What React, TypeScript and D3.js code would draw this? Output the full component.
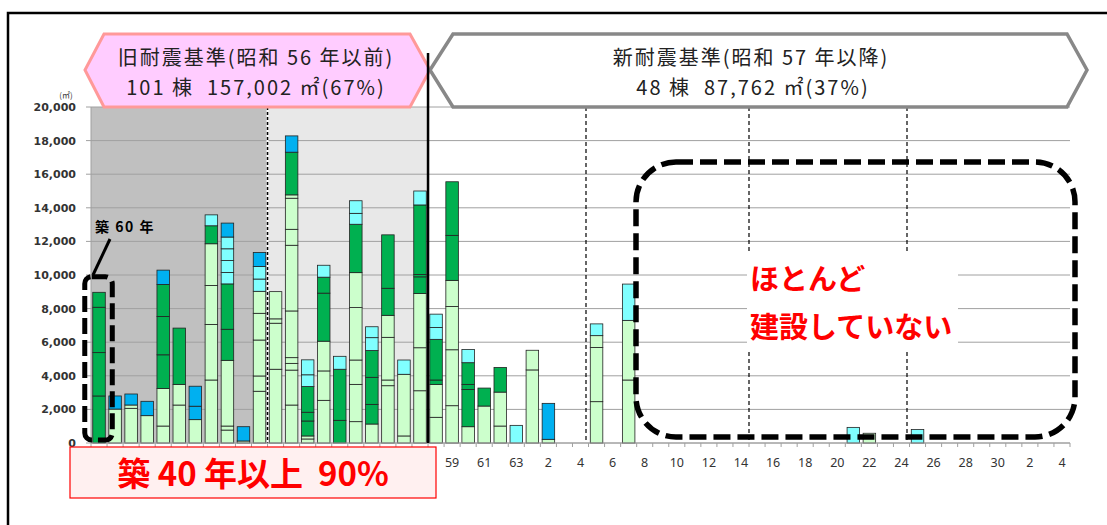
import React from 'react';
import * as d3 from 'd3';

// 建築年度（昭和37年〜令和4年）
const years = [
  'S37', 'S38', 'S39', 'S40', 'S41', 'S42', 'S43', 'S44', 'S45', 'S46',
  'S47', 'S48', 'S49', 'S50', 'S51', 'S52', 'S53', 'S54', 'S55', 'S56',
  'S57', 'S58', 'S59', 'S60', 'S61', 'S62', 'S63', 'H1', 'H2', 'H3',
  'H4', 'H5', 'H6', 'H7', 'H8', 'H9', 'H10', 'H11', 'H12', 'H13',
  'H14', 'H15', 'H16', 'H17', 'H18', 'H19', 'H20', 'H21', 'H22', 'H23',
  'H24', 'H25', 'H26', 'H27', 'H28', 'H29', 'H30', 'R1', 'R2', 'R3', 'R4',
];

// 棟ごとの延床面積（㎡）、色区分別
const lightGreen: Record<string, number[]> = {
  S38: [2020], S39: [2065, 197], S40: [1627], S41: [1010, 2240], S42: [2260, 1230],
  S43: [1390], S44: [3750, 3310, 2320, 2480], S45: [770, 240, 3910], S46: [120],
  S47: [3080, 910, 2140, 1590, 1310], S48: [4390, 2740, 260, 1620],
  S49: [2260, 2080, 400, 340, 2780, 3910, 950, 1850, 200], S50: [240, 180],
  S51: [2540, 1750, 1770], S53: [1270, 2220, 1450, 3120, 2080], S54: [1130],
  S55: [3410, 340, 2540, 1310], S56: [420, 3670], S57: [3110, 2560, 3230],
  S58: [1530, 1960], S59: [2220, 3330, 2580, 1550], S60: [970], S61: [2200],
  S62: [1010, 2020], H1: [4350, 1170], H2: [220], H5: [2460, 3230, 700],
  H7: [3750, 3550], H22: [580],
};

const darkGreen: Record<string, number[]> = {
  S37: [2800, 2580, 2700, 890], S41: [2000, 2280, 1910], S42: [3350], S44: [1070],
  S45: [1850, 2700], S49: [2540], S50: [890, 520, 1530], S51: [2860, 950],
  S52: [1350, 3040], S53: [2880], S54: [1170, 1610, 1590], S55: [1610, 3180],
  S57: [990, 140, 4140], S58: [260, 2420], S59: [2680, 3190], S60: [2220, 300, 1290],
  S61: [1070], S62: [1470],
};

const lightCyan: Record<string, number[]> = {
  S44: [650], S45: [680, 710, 700, 700], S47: [730, 750], S50: [700, 890], S51: [710],
  S52: [770], S53: [650, 750], S54: [770, 650], S56: [850], S57: [830], S58: [710, 790],
  S60: [790], S63: [1050], H5: [700], H7: [2160], H21: [930], H25: [800],
};

const blue: Record<string, number[]> = {
  S38: [780], S39: [655], S40: [855], S41: [850], S43: [800, 1190], S45: [830],
  S46: [850], S47: [830], S49: [970], H2: [2140],
};

const yTickValues = [0, 2000, 4000, 6000, 8000, 10000, 12000, 14000, 16000, 18000, 20000];

const seriesList = [
  { data: lightGreen, color: '#CCFFCC' },
  { data: darkGreen, color: '#00B050' },
  { data: lightCyan, color: '#80FFFF' },
  { data: blue, color: '#00B0F0' },
];

const JP = '"Noto Sans CJK JP", "Noto Sans", sans-serif';
const pre = { whiteSpace: 'pre' as const };

export default function App() {
  const W = 1107;
  const H = 525;
  const left = 91;
  const right = 1070;
  const top = 107;
  const bottom = 443;

  const x = d3.scaleBand<string>().domain(years).range([left, right]).paddingInner(0.22).paddingOuter(0.11);
  const y = d3.scaleLinear().domain([0, 20000]).range([bottom, top]);
  const step = x.step();
  const bx = (k: number) => left + k * step;
  const fmt = d3.format(',');

  // stacked segments
  const segs: { key: string; x: number; y0: number; y1: number; color: string }[] = [];
  years.forEach((yr) => {
    let acc = 0;
    seriesList.forEach((s) => {
      (s.data[yr] || []).forEach((v, j) => {
        segs.push({ key: `${yr}-${s.color}-${j}`, x: x(yr)!, y0: acc, y1: acc + v, color: s.color });
        acc += v;
      });
    });
  });

  const oldEnd = bx(years.indexOf('S58'));
  const fiftyEnd = bx(years.indexOf('S48'));
  const firstX = x('S37')!;

  const pinkPts = [[85, 70], [104, 34], [410, 34], [430, 70], [410, 107], [104, 107]];
  const grayPts = [[430, 70], [453, 34], [1067, 34], [1087, 70], [1067, 107], [453, 107]];
  const pts = (p: number[][]) => p.map((d) => d.join(',')).join(' ');

  // labels under the red note box are hidden in the original
  const firstShown = years.indexOf('S59');

  return (
    <svg width={W} height={H} style={{ position: 'absolute', left: 0, top: 0, background: '#fff' }}>
      {/* frame */}
      <path d={`M8,${H} L8,13 L${W},13`} fill="none" stroke="#000" strokeWidth={2.5} />

      {/* shaded periods */}
      <rect x={left} y={top} width={fiftyEnd - left} height={bottom - top} fill="#C0C0C0" />
      <rect x={fiftyEnd} y={top} width={oldEnd - fiftyEnd} height={bottom - top} fill="#E8E8E8" />

      {/* gridlines */}
      {yTickValues.map((t) => (
        <g key={t}>
          <line x1={left} x2={right} y1={y(t)} y2={y(t)} stroke="#A0A0A0" strokeWidth={1} />
          <line x1={left - 5} x2={left} y1={y(t)} y2={y(t)} stroke="#A0A0A0" strokeWidth={1} />
          <text x={76} y={y(t) + 4} textAnchor="end" fontFamily="DejaVu Sans" fontWeight="bold" fontSize={11} fill="#333">
            {fmt(t)}
          </text>
        </g>
      ))}
      <text x={66} y={98} textAnchor="middle" fontFamily={JP} fontSize={8} fill="#333">(㎡)</text>
      <line x1={left} x2={left} y1={top} y2={bottom} stroke="#A0A0A0" />

      {/* period dividers */}
      <line x1={fiftyEnd} x2={fiftyEnd} y1={top} y2={bottom} stroke="#fff" strokeWidth={2} />
      <line x1={fiftyEnd} x2={fiftyEnd} y1={top} y2={bottom} stroke="#000" strokeWidth={1.5} strokeDasharray="3,2" />
      {[586, 749, 907].map((lx) => (
        <line key={lx} x1={lx} x2={lx} y1={top} y2={bottom} stroke="#000" strokeWidth={1.2} strokeDasharray="4,3" />
      ))}

      {/* bars */}
      {segs.map((s) => (
        <rect key={s.key} x={s.x} y={y(s.y1)} width={x.bandwidth()} height={y(s.y0) - y(s.y1)}
          fill={s.color} stroke="#222" strokeWidth={0.8} />
      ))}

      {/* x axis */}
      <line x1={left} x2={right} y1={bottom} y2={bottom} stroke="#A0A0A0" />
      {d3.range(years.length + 1).map((k) => (
        <line key={k} x1={bx(k)} x2={bx(k)} y1={bottom} y2={bottom + 4} stroke="#A0A0A0" />
      ))}
      {years.map((yr, i) => i % 2 === 0 && i >= firstShown && (
        <text key={yr} x={x(yr)! + x.bandwidth() / 2} y={467} textAnchor="middle" fontFamily="Noto Sans" fontSize={12.5} fill="#333">
          {yr.slice(1)}
        </text>
      ))}

      {/* headers */}
      <polygon points={pts(pinkPts)} fill="#FFCCFF" stroke="#FF9999" strokeWidth={3} />
      <polygon points={pts(grayPts)} fill="#fff" stroke="#888" strokeWidth={3.5} />
      <line x1={oldEnd} x2={oldEnd} y1={53} y2={bottom} stroke="#000" strokeWidth={2.5} />
      <g fontFamily={JP} fontSize={20} letterSpacing={2} fill="#222" textAnchor="middle" style={pre}>
        <text x={256} y={65} xmlSpace="preserve">旧耐震基準(昭和 56 年以前)</text>
        <text x={256} y={95} xmlSpace="preserve">101 棟  157,002 ㎡(67%)</text>
        <text x={751} y={65} xmlSpace="preserve">新耐震基準(昭和 57 年以降)</text>
        <text x={753} y={95} xmlSpace="preserve">48 棟  87,762 ㎡(37%)</text>
      </g>

      {/* no-construction note */}
      <rect x={747} y={253} width={211} height={99} fill="#fff" />
      <g fontFamily={JP} fontSize={29} fontWeight="bold" fill="#FF0000">
        <text x={750} y={290}>ほとんど</text>
        <text x={750} y={338}>建設していない</text>
      </g>
      <rect x={636} y={162} width={439} height={275} rx={40} ry={40} fill="none" stroke="#000" strokeWidth={5.5} strokeDasharray="17,7" />

      {/* 60 years note */}
      <rect x={firstX - 8} y={y(9900)} width={x.bandwidth() + 15} height={y(180) - y(9900)} rx={7} ry={7}
        fill="none" stroke="#000" strokeWidth={5} strokeDasharray="16,6" />
      <line x1={110} y1={239} x2={93} y2={275} stroke="#000" strokeWidth={3} />
      <text x={95} y={232} fontFamily={JP} fontWeight="bold" fontSize={14} letterSpacing={1.5} fill="#000" style={pre} xmlSpace="preserve">築 60 年</text>

      {/* 40 years note */}
      <rect x={70} y={447} width={366} height={51} fill="#FFF0F0" stroke="#FF0000" strokeWidth={1.2} />
      <text x={253} y={486} textAnchor="middle" fontFamily={JP} fontWeight="bold" fontSize={33} fill="#FF0000" style={pre} xmlSpace="preserve">
        築 40 年以上  90%
      </text>
    </svg>
  );
}
